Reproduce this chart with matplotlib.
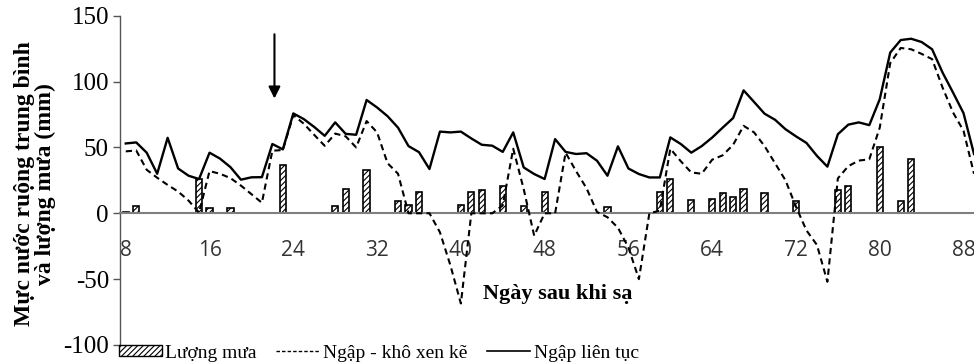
import numpy as np
import matplotlib
matplotlib.use('Agg')
import matplotlib.pyplot as plt
from matplotlib.patches import Patch
from matplotlib.lines import Line2D

plt.rcParams['font.family'] = ['Liberation Serif', 'DejaVu Serif']
plt.rcParams['axes.unicode_minus'] = False
plt.rcParams['hatch.linewidth'] = 0.8

# Ngày sau khi sạ
days = np.arange(8, 90)

# Ngập liên tục (mm)
ngap_lien_tuc = [53, 53.8, 46, 30, 57.3, 34, 28.5, 26, 46, 41.5,
                 35, 25.5, 27.3, 27.4, 52.6, 48.5, 75.8, 71.5, 65.5, 58.8,
                 69, 60.3, 59.6, 86, 80.3, 73.7, 65, 51, 46.4, 33.6,
                 62, 61.4, 62, 56.8, 52, 51.3, 46.6, 61.4, 34.8, 29.8,
                 26, 56.3, 46.6, 45, 45.6, 39.9, 28.5, 50.8, 34, 29.8,
                 27.2, 27.2, 57.6, 52.6, 46, 51, 57.5, 65, 72.3, 93.3,
                 84.5, 75.6, 71, 63.8, 58.4, 53.4, 43.6, 35.4, 60, 67.3,
                 69, 66.9, 86.6, 122, 131.5, 132.5, 130, 124.5, 106.8, 91.6,
                 76, 45]

# Ngập - khô xen kẽ (mm)
ngap_kho = [47, 47.7, 33, 27, 21.5, 16.5, 9.6, 0.5, 32, 30,
            26.7, 21, 14.5, 8, 47.5, 48, 74.5, 68, 59.5, 51.2,
            60.5, 58.4, 50, 70, 61.4, 38, 30, 0, 0, 0,
            -14.4, -39.5, -68.5, 0, 0, 0, 6, 49, 18.4, -17,
            0, 0, 46, 32, 19, 1, -3, -11, -26, -50,
            0, 2, 49, 39.5, 31, 30, 40.7, 44, 52, 66.4,
            61.4, 51, 38, 25, 5, -13, -24, -52, 26.5, 35.8,
            40, 41, 65, 114, 125.5, 124.5, 121, 117, 95.4, 76.5,
            62.6, 30]

# Lượng mưa (mm)
mua_days = [8, 9, 15, 16, 18, 23, 28, 29, 31, 34, 35, 36, 40, 41, 42, 44, 46, 48,
            54, 59, 60, 62, 64, 65, 66, 67, 69, 72, 76, 77, 80, 82, 83]
mua = [1.2, 5.5, 26, 4, 4, 37, 5.5, 18.5, 32.5, 9, 6, 16, 6.5, 16, 17.5, 21, 5.8, 16,
       4.5, 16, 26, 9.8, 11, 15.4, 12, 18.4, 15.4, 9.6, 17.6, 21, 50.5, 9.6, 41]

x_ticks = np.arange(8, 89, 8)
y_ticks = np.arange(-100, 151, 50)

# mũi tên chỉ ngày bắt đầu xử lý
arrow_day = 22.2
arrow_top, arrow_tip = 138, 85

fig = plt.figure(figsize=(9.74, 3.64), dpi=100)
ax = fig.add_axes([0.1232, 0.0522, 0.8768, 0.9047])

ax.bar(mua_days, mua, width=0.6, facecolor='white', edgecolor='black',
       hatch='//////', linewidth=1.2, zorder=2)
ax.plot(days, ngap_kho, color='black', lw=1.5, linestyle=(0, (3, 2)), zorder=3)
ax.plot(days, ngap_lien_tuc, color='black', lw=1.7, zorder=4)

ax.annotate('', xy=(arrow_day, arrow_tip), xytext=(arrow_day, arrow_top),
            arrowprops=dict(arrowstyle='-|>,head_length=0.7,head_width=0.35',
                            color='black', lw=1.5))

ax.set_xlim(7.45, 89.0)
ax.set_ylim(-100, 150)
ax.set_xticks(x_ticks)
ax.set_xticklabels([str(d) for d in x_ticks])
ax.set_yticks(y_ticks)
ax.set_yticklabels([str(v) for v in y_ticks])
ax.tick_params(axis='x', length=0, pad=19, labelsize=15, labelcolor='#333333',
               labelfontfamily='Open Sans')
ax.tick_params(axis='y', direction='out', length=5, width=1, color='#555555', pad=3,
               labelsize=18)

for s in ['top', 'right']:
    ax.spines[s].set_visible(False)
ax.spines['bottom'].set_position(('data', 0))
ax.spines['bottom'].set_color('#7f7f7f')
ax.spines['bottom'].set_linewidth(1.5)
ax.spines['left'].set_color('#555555')
ax.spines['left'].set_linewidth(1.0)

fig.text(35 / 974, 1 - 184 / 364, 'Mực nước ruộng trung bình\nvà lượng mưa (mm)',
         rotation=90, ha='center', va='center', fontsize=17, fontweight='bold',
         multialignment='center', linespacing=1.05)
fig.text(558 / 974, 1 - 294 / 364, 'Ngày sau khi sạ', ha='center', va='center',
         fontsize=16, fontweight='bold')

handles = [Patch(facecolor='white', edgecolor='black', hatch='//////', linewidth=1.0),
           Line2D([], [], color='black', lw=1.0, linestyle=(0, (2.5, 1.5))),
           Line2D([], [], color='black', lw=1.2)]
labels = ['Lượng mưa', 'Ngập - khô xen kẽ', 'Ngập liên tục']
fig.legend(handles, labels, loc='center left', bbox_to_anchor=(0.122, 1 - 353 / 364),
           ncol=3, frameon=False, fontsize=14, handlelength=2.2, handleheight=0.45,
           handletextpad=0.2, columnspacing=1.0, borderaxespad=0, borderpad=0)

fig.savefig('out.png', dpi=100)
